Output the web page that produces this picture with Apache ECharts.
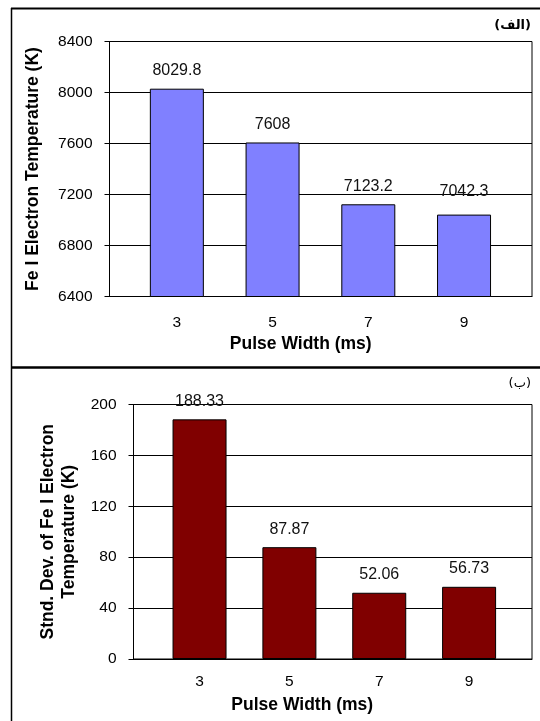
<!DOCTYPE html>
<html>
<head>
<meta charset="utf-8">
<script src="https://cdn.jsdelivr.net/npm/echarts@6/dist/echarts.min.js"></script>
<style>
html,body{margin:0;padding:0;background:#fff;}
#c{width:540px;height:721px;}
</style>
</head>
<body>
<div id="c"></div>
<script>
// ---- data ----
const pulseWidths = [3, 5, 7, 9];
const feTemp = [8029.8, 7608, 7123.2, 7042.3];
const stdDev = [188.33, 87.87, 52.06, 56.73];
const tempTicks = { min: 6400, max: 8400, step: 400 };
const devTicks = { min: 0, max: 200, step: 40 };
const xTitle = 'Pulse Width (ms)';
const yTitleTop = 'Fe I Electron Temperature (K)';
const yTitleBottom = 'Stnd. Dev. of Fe I Electron\nTemperature (K)';
const panelTagTop = '(الف)';
const panelTagBottom = '(ب)';

const FONT = '"Liberation Sans", Arial, sans-serif';
const chart = echarts.init(document.getElementById('c'), null, { renderer: 'canvas' });

function xAxisCfg(gridIndex, min, max, gap, padRight, margin) {
  return {
    type: 'value', gridIndex, min, max,
    name: xTitle, nameLocation: 'middle', nameGap: gap,
    nameTextStyle: { fontFamily: FONT, fontWeight: 'bold', fontSize: 17.5, color: '#000', padding: [0, padRight, 0, 0] },
    axisLine: { show: true, lineStyle: { color: '#000', width: 1 } },
    axisTick: { show: false },
    splitLine: { show: false },
    axisLabel: { customValues: pulseWidths, fontFamily: FONT, fontSize: 15.5, color: '#000', margin, formatter: v => String(v) }
  };
}
function yAxisCfg(gridIndex, t, name, gap, lh) {
  return {
    type: 'value', gridIndex, min: t.min, max: t.max, interval: t.step,
    name, nameLocation: 'middle', nameGap: gap,
    nameTextStyle: { fontFamily: FONT, fontWeight: 'bold', fontSize: 17.5, color: '#000', lineHeight: lh },
    axisLine: { show: true, lineStyle: { color: '#000', width: 1 } },
    axisTick: { show: true, length: 5, lineStyle: { color: '#000' } },
    splitLine: { show: true, lineStyle: { color: '#000', width: 1 } },
    axisLabel: { fontFamily: FONT, fontSize: 15.5, color: '#000', margin: 17, formatter: v => String(v) }
  };
}
function barSeries(idx, vals, color, lift) {
  return {
    type: 'bar', xAxisIndex: idx, yAxisIndex: idx,
    barWidth: 54,
    data: vals.map((v, i) => ({
      value: [pulseWidths[i], v],
      label: { distance: 10 + (lift[i] || 0) }
    })),
    itemStyle: { color, borderColor: '#000', borderWidth: 1 },
    label: {
      show: true, position: 'top', fontFamily: FONT, fontSize: 16, color: '#111',
      formatter: p => String(vals[p.dataIndex])
    },
    clip: true
  };
}

chart.setOption({
  animation: false,
  backgroundColor: '#fff',
  grid: [
    { left: 109.5, top: 41.5, right: 8, height: 255, show: true, borderColor: '#000', borderWidth: 1, backgroundColor: 'transparent' },
    { left: 133.5, top: 404.5, right: 8, height: 254.5, show: true, borderColor: '#000', borderWidth: 1, backgroundColor: 'transparent' }
  ],
  xAxis: [
    xAxisCfg(0, 1.593, 10.42, 39, 40, 18),
    xAxisCfg(1, 1.53, 10.40, 37, 61, 15)
  ],
  yAxis: [
    yAxisCfg(0, tempTicks, yTitleTop, 67, 18),
    yAxisCfg(1, devTicks, yTitleBottom, 54, 21)
  ],
  series: [
    barSeries(0, feTemp, '#8080FF', [0, 0, 0, 5]),
    barSeries(1, stdDev, '#800000', [0, 0, 0, 0])
  ],
  graphic: [
    { type: 'line', shape: { x1: 11, y1: 8.5, x2: 545, y2: 8.5 }, style: { stroke: '#000', lineWidth: 2 } },
    { type: 'line', shape: { x1: 11.5, y1: 8, x2: 11.5, y2: 725 }, style: { stroke: '#000', lineWidth: 1.5 } },
    { type: 'line', shape: { x1: 11, y1: 367.5, x2: 545, y2: 367.5 }, style: { stroke: '#000', lineWidth: 2.5 } },
    { type: 'text', right: 9, top: 19, style: { text: panelTagTop, font: 'bold 13px "DejaVu Sans", sans-serif', fill: '#000' } },
    { type: 'text', right: 9, top: 377, style: { text: panelTagBottom, font: '13px "DejaVu Sans", sans-serif', fill: '#000' } }
  ]
});
</script>
</body>
</html>
